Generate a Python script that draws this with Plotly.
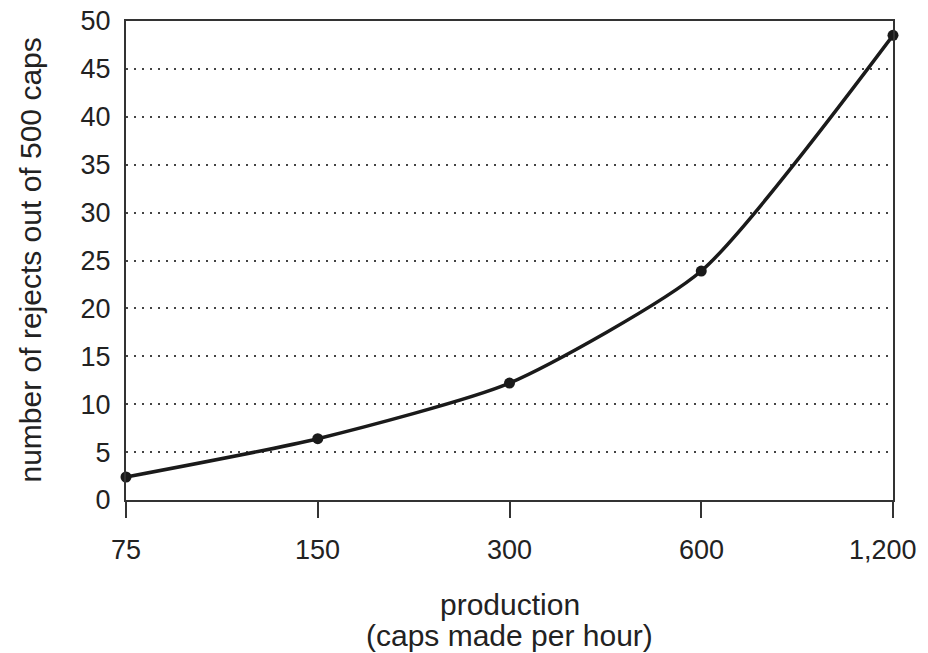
import plotly.graph_objects as go
import math

production = [75, 150, 300, 600, 1200]
tick_labels = ["75", "150", "300", "600", "1,200"]
rejects = [2.4, 6.4, 12.2, 23.9, 48.5]
y_ticks = [0, 5, 10, 15, 20, 25, 30, 35, 40, 45, 50]
x_title = ["production", "(caps made per hour)"]
y_title = "number of rejects out of 500 caps"

fig = go.Figure()
fig.add_trace(go.Scatter(
    x=production, y=rejects, mode="lines+markers",
    line=dict(color="#1a1a1a", width=3.5, shape="spline", smoothing=0.6),
    marker=dict(color="#1a1a1a", size=11),
    cliponaxis=False, showlegend=False,
))

FAM = "Liberation Sans, Arial, sans-serif"
tick_font = dict(family=FAM, size=27, color="#222")
title_font = dict(family=FAM, size=30, color="#222")
eps = 1e-5

# page body has an 8px offset; margins compensate so plot spans x 126-893, y 21-500
fig.update_layout(
    width=920, height=645,
    margin=dict(l=118, r=35, t=13, b=153),
    paper_bgcolor="white", plot_bgcolor="white",
    font=tick_font,
    xaxis=dict(
        type="log",
        range=[math.log10(production[0]) - eps, math.log10(production[-1]) + eps],
        tickvals=production, showticklabels=False,
        ticks="outside", ticklen=16, tickwidth=1.5, tickcolor="#333",
        showline=True, linecolor="#333", linewidth=2, mirror=True,
        showgrid=False, zeroline=False, automargin=False,
    ),
    yaxis=dict(
        range=[0, 50], tickvals=y_ticks, tickfont=tick_font,
        ticks="", showline=True, linecolor="#333", linewidth=2, mirror=True,
        showgrid=True, gridcolor="#444", griddash="2px,6px", gridwidth=1.5,
        zeroline=False, ticklabelstandoff=8, automargin=False,
        ticklabeloverflow="allow",
    ),
)

# x tick labels placed at the data positions; the last one kept inside the window
for i, (xv, lab) in enumerate(zip(production, tick_labels)):
    last = i == len(production) - 1
    fig.add_annotation(text=lab, x=math.log10(xv), xref="x", yref="paper", y=0,
                       xanchor="right" if last else "center", yanchor="middle",
                       xshift=26 if last else 0, yshift=-50,
                       showarrow=False, font=tick_font)

fig.add_annotation(text=y_title, xref="paper", yref="paper", x=0, y=0.5,
                   xanchor="center", yanchor="middle", xshift=-96, textangle=-90,
                   showarrow=False, font=title_font)
fig.add_annotation(text=x_title[0], xref="paper", yref="paper", x=0.5, y=0,
                   xanchor="center", yanchor="middle", yshift=-104,
                   showarrow=False, font=title_font)
fig.add_annotation(text=x_title[1], xref="paper", yref="paper", x=0.5, y=0,
                   xanchor="center", yanchor="middle", yshift=-135,
                   showarrow=False, font=title_font)

fig.write_html("out.html")
